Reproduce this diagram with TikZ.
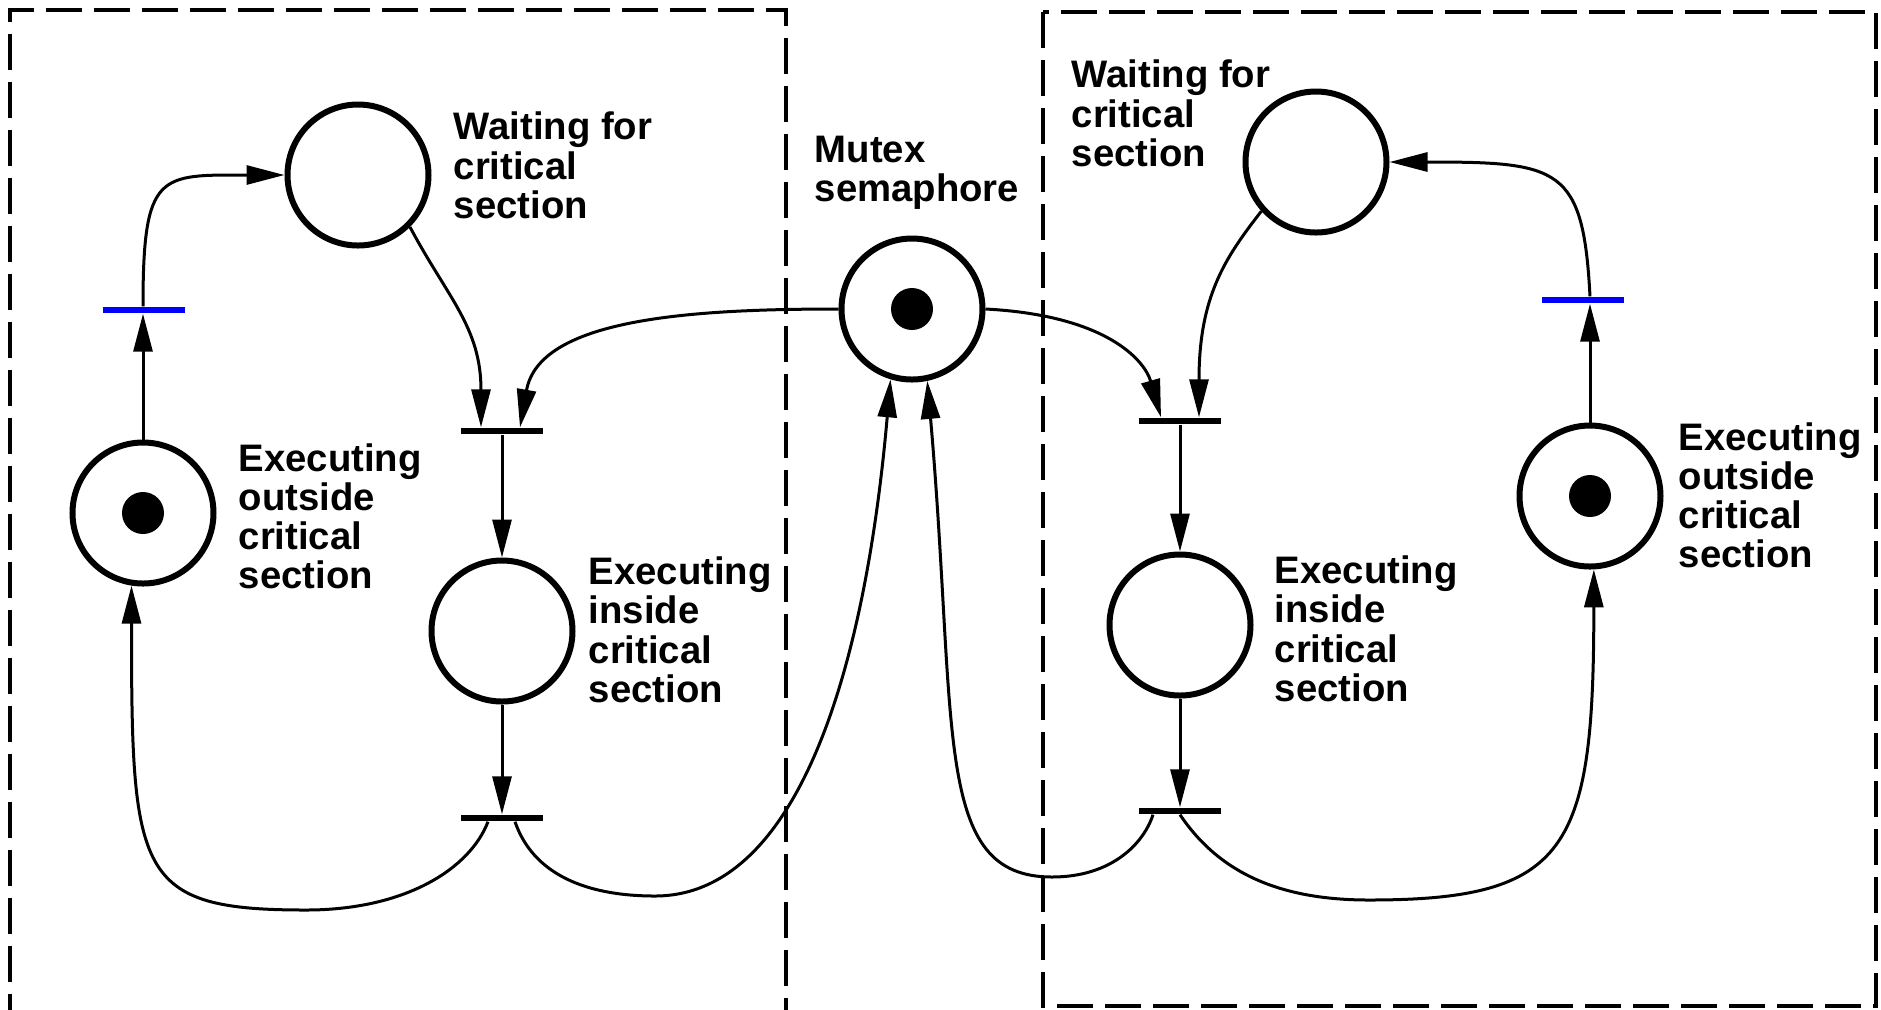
\documentclass[tikz,border=0pt]{standalone}
\usepackage{fontspec}
\setmainfont{Liberation Sans}
\usepackage{tikz}
\usetikzlibrary{arrows.meta,positioning,calc}
\definecolor{ink}{HTML}{000000}
\definecolor{barblue}{HTML}{0000FF}

\begin{document}
\begin{tikzpicture}[
  place/.style={circle,draw=ink,line width=0.6mm,minimum size=14.1mm,inner sep=0pt},
  marked/.style={place,path picture={\fill[ink] (path picture bounding box.center) circle (2.1mm);}},
  bar/.style={fill=ink,minimum width=8.2mm,minimum height=0.6mm,inner sep=0pt},
  bluebar/.style={bar,fill=barblue},
  flow/.style={-{Triangle[length=3.8mm,width=1.9mm]},line width=0.3mm,draw=ink},
  lbl/.style={font=\fontsize{10.9pt}{11.1pt}\selectfont\bfseries,align=left,inner sep=0pt,anchor=base west},
  frame/.style={draw=ink,line width=0.35mm,dash pattern=on 3.6mm off 1.2mm}
]
\useasboundingbox (0,0) rectangle (18.81,-10.09);

\draw[frame] (0.10,-10.3) |- (7.86,-0.10) -- (7.86,-10.3);
\draw[frame] (10.43,-0.12) rectangle (18.76,-10.06);

\node[place] (w1) at (3.58,-1.75) {};
\node[marked] (o1) at (1.43,-5.13) {};
\node[place] (i1) at (5.02,-6.31) {};
\node[marked] (mx) at (9.12,-3.09) {};
\node[place] (w2) at (13.16,-1.62) {};
\node[marked] (o2) at (15.90,-4.96) {};
\node[place] (i2) at (11.80,-6.25) {};

\node[bluebar] (tb1) at (1.44,-3.10) {};
\node[bar] (tin1) at (5.02,-4.31) {};
\node[bar] (tout1) at (5.02,-8.18) {};
\node[bluebar] (tb2) at (15.83,-3.00) {};
\node[bar] (tin2) at (11.80,-4.21) {};
\node[bar] (tout2) at (11.80,-8.11) {};

\node[lbl] (lw1) at (4.53,-2.18) {Waiting for\\critical\\section};
\node[lbl] (lo1) at (2.38,-5.885) {Executing\\outside\\critical\\section};
\node[lbl] (li1) at (5.88,-7.02) {Executing\\inside\\critical\\section};
\node[lbl] (lmx) at (8.14,-2.01) {Mutex\\semaphore};
\node[lbl] (lw2) at (10.71,-1.66) {Waiting for\\critical\\section};
\node[lbl] (lo2) at (16.78,-5.675) {Executing\\outside\\critical\\section};
\node[lbl] (li2) at (12.74,-7.01) {Executing\\inside\\critical\\section};

\coordinate (lowA) at (3.06,-9.10);
\coordinate (lowB) at (6.55,-8.96);
\coordinate (lowC) at (10.52,-8.77);
\coordinate (lowD) at (13.69,-9.00);

\draw[flow] (o1.north) -- (o1.north |- tb1.south);
\draw[flow] (o1.north |- tb1.north) to[out=90,in=180,out distance=13.5mm,in distance=12.5mm] (w1.west);
\draw[flow] (w1.-45) to[out=-62,in=90,out distance=8mm,in distance=10mm] ([xshift=-2.1mm]tin1.north);
\draw[flow] (mx.west) to[out=180,in=80,out distance=15mm,in distance=11mm] ([xshift=1.8mm]tin1.north);
\draw[flow] (tin1) -- (i1);
\draw[flow] (i1) -- (tout1);
\draw[flow] ([xshift=-1.4mm]tout1.south) to[out=-111,in=0,out distance=5mm,in distance=10mm] (lowA)
  to[out=180,in=-90,out distance=17mm,in distance=29mm] (o1.-99);
\draw[flow] ([xshift=1.3mm]tout1.south) to[out=-71,in=180,out distance=5.5mm,in distance=7mm] (lowB)
  to[out=0,in=-95,out distance=14mm,in distance=30mm] (mx.-107);

\draw[flow] (o2.north) -- (o2.north |- tb2.south);
\draw[flow] (o2.north |- tb2.north) to[out=93,in=0,out distance=13mm,in distance=17mm] (w2.east);
\draw[flow] (w2.222) to[out=232,in=90,out distance=6mm,in distance=12mm] ([xshift=1.9mm]tin2.north);
\draw[flow] (mx.east) to[out=-3,in=106,out distance=12mm,in distance=6mm] ([xshift=-1.9mm]tin2.north);
\draw[flow] (tin2) -- (i2);
\draw[flow] (i2) -- (tout2);
\draw[flow] ([xshift=-2.7mm]tout2.south) to[out=-108,in=0,out distance=3mm,in distance=6mm] (lowC)
  to[out=180,in=-85,out distance=12mm,in distance=35mm] (mx.-78);
\draw[flow] (tout2.south) to[out=-56,in=180,out distance=7mm,in distance=9mm] (lowD)
  to[out=0,in=-90,out distance=20mm,in distance=28mm] (o2.-87);
\end{tikzpicture}
\end{document}
